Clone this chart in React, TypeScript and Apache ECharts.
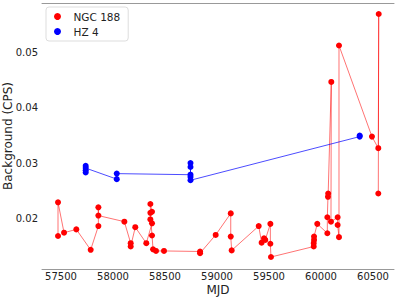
import React, { useEffect, useRef } from "react";
import * as echarts from "echarts";

const ngcMjd = [57471, 57471, 57529, 57647, 57785, 57859, 57859, 57859, 58109, 58170, 58170, 58214, 58320, 58375, 58359, 58359, 58375, 58359, 58375, 58385, 58413, 58490, 58837, 58837, 58987, 59132, 59132, 59141, 59401, 59429, 59452, 59464, 59513, 59513, 59519, 59930, 59930, 59933, 59933, 59964, 60061, 60061, 60067, 60069, 60099, 60096, 60160, 60160, 60173, 60173, 60490, 60551, 60555, 60551];
const ngcBkg = [0.0168, 0.0229, 0.0174, 0.0180, 0.0143, 0.0186, 0.0220, 0.0205, 0.0194, 0.0155, 0.0149, 0.0184, 0.0155, 0.0191, 0.0198, 0.0226, 0.0212, 0.0210, 0.0169, 0.0144, 0.0141, 0.0141, 0.0140, 0.0137, 0.0170, 0.0209, 0.0167, 0.0142, 0.0186, 0.0156, 0.0164, 0.0161, 0.0190, 0.0154, 0.0130, 0.0149, 0.0155, 0.0161, 0.0167, 0.0190, 0.0173, 0.0202, 0.0239, 0.0245, 0.0447, 0.0194, 0.0202, 0.0188, 0.0166, 0.0513, 0.0348, 0.0327, 0.0570, 0.0245];

const hzMjd = [57737, 57737, 57737, 57737, 58036, 58036, 58745, 58745, 58745, 58745, 58745, 60372, 60372];
const hzBkg = [0.0283, 0.0287, 0.0295, 0.0291, 0.0271, 0.0281, 0.0279, 0.0300, 0.0293, 0.0275, 0.0269, 0.0348, 0.0350];

const xTicks = [57500, 58000, 58500, 59000, 59500, 60000, 60500];
const yTicks = [0.02, 0.03, 0.04, 0.05];
const xTitle = "MJD";
const yTitle = "Background (CPS)";

const FONT = "DejaVu Sans";

export default function App() {
  const ref = useRef<HTMLDivElement>(null);
  useEffect(() => {
    const chart = echarts.init(ref.current!, null, { renderer: "svg" });
    const xMin = 57317, xMax = 60702;
    chart.setOption({
      animation: false,
      textStyle: { fontFamily: FONT },
      grid: { left: 42, right: 3, top: 3, bottom: 29, containLabel: false, outerBoundsMode: "none" },
      legend: {
        left: 46, top: 7, orient: "vertical",
        borderColor: "#dddddd", borderWidth: 1, borderRadius: 3,
        padding: [4, 8, 4, 8], itemGap: 4, itemWidth: 22, itemHeight: 7,
        textStyle: { fontFamily: FONT, fontSize: 10.5, color: "#222" },
        data: [
          { name: "NGC 188", icon: "circle" },
          { name: "HZ 4", icon: "circle" },
        ],
      },
      graphic: [
        {
          type: "text", x: 8, y: 136, rotation: Math.PI / 2,
          style: { text: yTitle, fontFamily: FONT, fontSize: 12, fill: "#222", align: "center", verticalAlign: "middle" },
        },
        {
          type: "text", x: 218, y: 289.5,
          style: { text: xTitle, fontFamily: FONT, fontSize: 12, fill: "#222", align: "center", verticalAlign: "middle" },
        },
      ],
      xAxis: [
        {
          type: "value", min: xMin, max: xMax,
          axisLine: { show: true, lineStyle: { color: "#999", width: 1 } },
          axisTick: { show: false },
          splitLine: { show: false },
          axisLabel: {
            customValues: xTicks, margin: 2, fontSize: 10, color: "#222", fontFamily: FONT,
            formatter: (v: number) => String(v),
          },
        },
        {
          type: "value", position: "top", min: xMin, max: xMax,
          axisLine: { show: true, onZero: false, lineStyle: { color: "#999", width: 1 } },
          axisTick: { show: false }, axisLabel: { show: false }, splitLine: { show: false },
        },
      ],
      yAxis: {
        type: "value", min: 0.01083, max: 0.05899,
        axisLine: { show: false }, axisTick: { show: false }, splitLine: { show: false },
        axisLabel: {
          customValues: yTicks, margin: 4, fontSize: 10, color: "#222", fontFamily: FONT,
          formatter: (v: number) => v.toFixed(2),
        },
      },
      series: [
        {
          name: "NGC 188", type: "line",
          data: ngcMjd.map((m, i) => [m, ngcBkg[i]]),
          symbol: "circle", symbolSize: 6,
          itemStyle: { color: "#ff0000" },
          lineStyle: { color: "rgba(255,0,0,0.55)", width: 1 },
        },
        {
          name: "HZ 4", type: "line",
          data: hzMjd.map((m, i) => [m, hzBkg[i]]),
          symbol: "circle", symbolSize: 6,
          itemStyle: { color: "#0000ff" },
          lineStyle: { color: "rgba(0,0,255,0.7)", width: 1 },
        },
      ],
    });
    return () => chart.dispose();
  }, []);
  return <div ref={ref} style={{ position: "absolute", left: 0, top: 0, width: 397, height: 298 }} />;
}
